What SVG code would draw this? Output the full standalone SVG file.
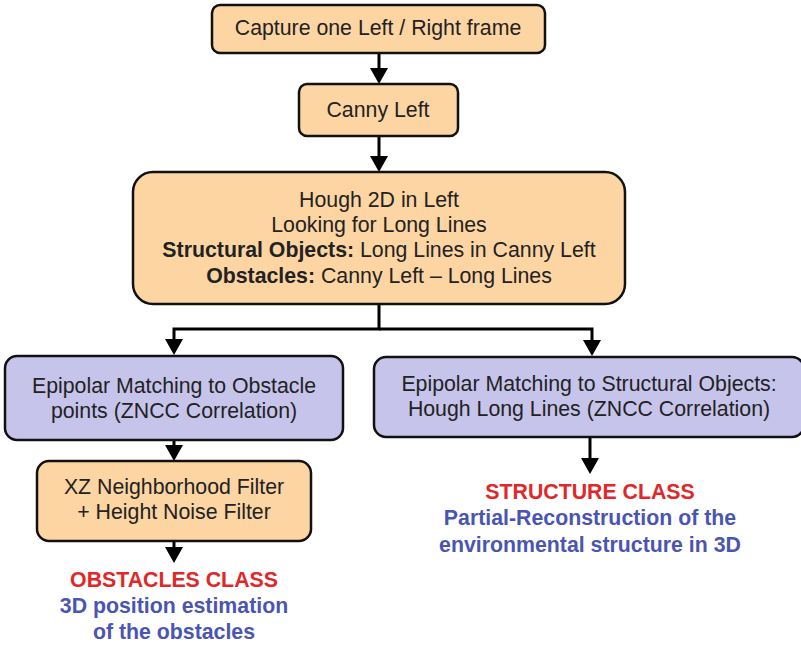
<svg xmlns="http://www.w3.org/2000/svg" width="801" height="645" viewBox="0 0 801 645">
<defs>
<style>
.o{fill:#FDD5A2;stroke:#111;stroke-width:2.5}
.p{fill:#C7C4EC;stroke:#111;stroke-width:2.5}
text{font-family:"Liberation Sans",Arial,sans-serif;font-size:21.3px;fill:#222;text-anchor:middle}
.b{font-weight:bold}
.r{fill:#E0282A;font-weight:bold}
.u{fill:#4A55B2;font-weight:bold}
.c{stroke:#000;stroke-width:3;fill:none}
</style>
</defs>
<g id="connectors">
<line class="c" x1="379" y1="53" x2="379" y2="70"/>
<path d="M370,68 L388,68 L379,84 Z"/>
<line class="c" x1="379" y1="136" x2="379" y2="158"/>
<path d="M370,156 L388,156 L379,172 Z"/>
<path class="c" d="M379,304 V329 H174 V341"/>
<path d="M165,339 L183,339 L174,355 Z"/>
<path class="c" d="M379,329 H592 V342"/>
<path d="M583,340 L601,340 L592,356 Z"/>
<line class="c" x1="174" y1="440" x2="174" y2="447"/>
<path d="M165,445 L183,445 L174,461 Z"/>
<line class="c" x1="174" y1="541" x2="174" y2="549"/>
<path d="M165,547 L183,547 L174,563 Z"/>
<line class="c" x1="590" y1="437" x2="590" y2="460"/>
<path d="M581,458 L599,458 L590,474 Z"/>
</g>
<g id="n1">
<rect class="o" x="212" y="5" width="333" height="48" rx="8"/>
<text x="378" y="35">Capture one Left / Right frame</text>
</g>
<g id="n2">
<rect class="o" x="299" y="84" width="159" height="52" rx="8"/>
<text x="378" y="117">Canny Left</text>
</g>
<g id="n3">
<rect class="o" x="133" y="172" width="492" height="132" rx="20"/>
<text x="379" y="207">Hough 2D in Left</text>
<text x="379" y="232">Looking for Long Lines</text>
<text x="379" y="257"><tspan class="b">Structural Objects:</tspan> Long Lines in Canny Left</text>
<text x="379" y="283"><tspan class="b">Obstacles:</tspan> Canny Left – Long Lines</text>
</g>
<g id="n4">
<rect class="p" x="5" y="356" width="338" height="84" rx="12"/>
<text x="174" y="393">Epipolar Matching to Obstacle</text>
<text x="174" y="418">points (ZNCC Correlation)</text>
</g>
<g id="n5">
<rect class="p" x="374" y="357" width="430" height="80" rx="12"/>
<text x="589" y="391">Epipolar Matching to Structural Objects:</text>
<text x="589" y="416">Hough Long Lines (ZNCC Correlation)</text>
</g>
<g id="n6">
<rect class="o" x="37" y="461" width="274" height="80" rx="12"/>
<text x="174" y="494">XZ Neighborhood Filter</text>
<text x="174" y="519">+ Height Noise Filter</text>
</g>
<g id="n7">
<text class="r" x="174" y="587">OBSTACLES CLASS</text>
<text class="u" x="174" y="613">3D position estimation</text>
<text class="u" x="174" y="639">of the obstacles</text>
</g>
<g id="n8">
<text class="r" x="590" y="499">STRUCTURE CLASS</text>
<text class="u" x="590" y="525">Partial-Reconstruction of the</text>
<text class="u" x="590" y="552">environmental structure in 3D</text>
</g>
</svg>
